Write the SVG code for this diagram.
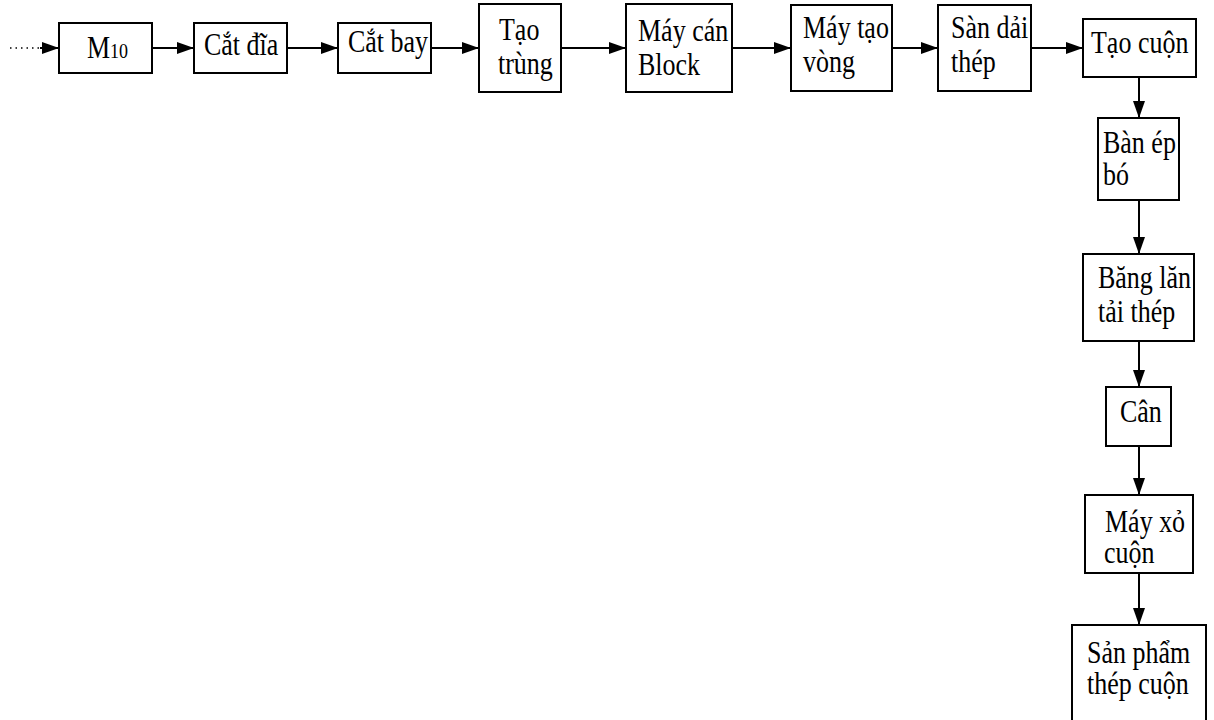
<svg xmlns="http://www.w3.org/2000/svg" width="1214" height="720" viewBox="0 0 1214 720">
<style>
.box{fill:#fff;stroke:#000;stroke-width:2}
.t{font-family:"Liberation Serif","Times New Roman",serif;font-size:26px;fill:#000}
.c{stroke:#000;stroke-width:2;fill:none;marker-end:url(#ah)}
</style>
<defs>
<marker id="ah" markerUnits="userSpaceOnUse" markerWidth="19" markerHeight="13" refX="17" refY="6" orient="auto">
<path d="M0,0 L17,6 L0,12 Z" fill="#000"/>
</marker>
</defs>
<rect width="1214" height="720" fill="#fff"/>
<g id="connectors">
<line x1="10" y1="48" x2="40" y2="48" stroke="#000" stroke-width="1.5" stroke-dasharray="1.5 4"/>
<line class="c" x1="40" y1="48" x2="59" y2="48"/>
<line class="c" x1="152" y1="48" x2="194" y2="48"/>
<line class="c" x1="287" y1="48" x2="338" y2="48"/>
<line class="c" x1="431" y1="48" x2="479" y2="48"/>
<line class="c" x1="561" y1="48" x2="626" y2="48"/>
<line class="c" x1="732" y1="48" x2="791" y2="48"/>
<line class="c" x1="892" y1="48" x2="938" y2="48"/>
<line class="c" x1="1031" y1="48" x2="1083" y2="48"/>
<line class="c" x1="1139" y1="77" x2="1139" y2="118"/>
<line class="c" x1="1139" y1="200" x2="1139" y2="254"/>
<line class="c" x1="1139" y1="341" x2="1139" y2="387"/>
<line class="c" x1="1139" y1="446" x2="1139" y2="495"/>
<line class="c" x1="1139" y1="573" x2="1139" y2="625"/>
</g>
<g id="m10">
<rect class="box" x="59" y="23" width="93" height="50"/>
<text class="t" transform="translate(87,58) scale(1,1.18)">M<tspan font-size="18">10</tspan></text>
</g>
<g id="cat-dia">
<rect class="box" x="194" y="23" width="93" height="50"/>
<text class="t" transform="translate(204,55) scale(1,1.18)">Cắt đĩa</text>
</g>
<g id="cat-bay">
<rect class="box" x="338" y="23" width="93" height="50"/>
<text class="t" transform="translate(348,52) scale(1,1.18)">Cắt bay</text>
</g>
<g id="tao-trung">
<rect class="box" x="479" y="4" width="82" height="88"/>
<text class="t" transform="translate(499,40) scale(1,1.18)">Tạo</text>
<text class="t" transform="translate(498,74) scale(1,1.18)">trùng</text>
</g>
<g id="may-can-block">
<rect class="box" x="626" y="4" width="106" height="88"/>
<text class="t" transform="translate(638,41) scale(1,1.18)">Máy cán</text>
<text class="t" transform="translate(638,75) scale(1,1.18)">Block</text>
</g>
<g id="may-tao-vong">
<rect class="box" x="791" y="5" width="101" height="86"/>
<text class="t" transform="translate(803,38) scale(1,1.18)">Máy tạo</text>
<text class="t" transform="translate(803,72) scale(1,1.18)">vòng</text>
</g>
<g id="san-dai-thep">
<rect class="box" x="938" y="5" width="93" height="86"/>
<text class="t" transform="translate(951,38) scale(1,1.18)">Sàn dải</text>
<text class="t" transform="translate(951,72) scale(1,1.18)">thép</text>
</g>
<g id="tao-cuon">
<rect class="box" x="1083" y="19" width="113" height="58"/>
<text class="t" transform="translate(1091,53) scale(1,1.18)">Tạo cuộn</text>
</g>
<g id="ban-ep-bo">
<rect class="box" x="1098" y="118" width="81" height="82"/>
<text class="t" transform="translate(1103,153) scale(1,1.18)">Bàn ép</text>
<text class="t" transform="translate(1103,185) scale(1,1.18)">bó</text>
</g>
<g id="bang-lan">
<rect class="box" x="1083" y="254" width="111" height="87"/>
<text class="t" transform="translate(1098,288) scale(1,1.18)">Băng lăn</text>
<text class="t" transform="translate(1098,322) scale(1,1.18)">tải thép</text>
</g>
<g id="can">
<rect class="box" x="1106" y="387" width="65" height="59"/>
<text class="t" transform="translate(1120,422) scale(1,1.18)">Cân</text>
</g>
<g id="may-xo-cuon">
<rect class="box" x="1085" y="495" width="108" height="78"/>
<text class="t" transform="translate(1105,532) scale(1,1.18)">Máy xỏ</text>
<text class="t" transform="translate(1104,563) scale(1,1.18)">cuộn</text>
</g>
<g id="san-pham">
<rect class="box" x="1072" y="625" width="134" height="100"/>
<text class="t" transform="translate(1087,663) scale(1,1.18)">Sản phẩm</text>
<text class="t" transform="translate(1087,694) scale(1,1.18)">thép cuộn</text>
</g>
</svg>
